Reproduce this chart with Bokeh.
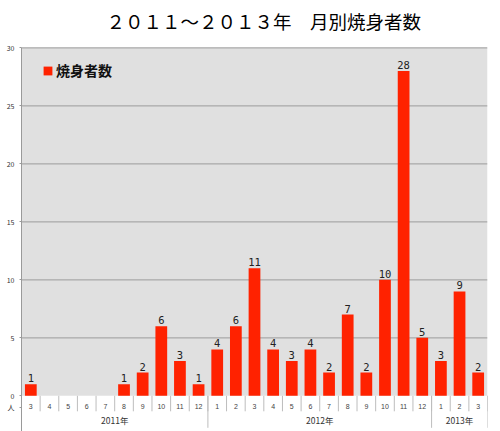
from bokeh.plotting import figure
from bokeh.models import ColumnDataSource, FixedTicker, Range1d, Legend, LegendItem, Label
from bokeh.core.properties import value
from bokeh.embed import file_html
from bokeh.resources import INLINE

# ---- data ----
title_text = "２０１１～２０１３年　月別焼身者数"
series_name = "焼身者数"
unit_label = "人"
years = ["2011年", "2012年", "2013年"]
months_2011 = [3, 4, 5, 6, 7, 8, 9, 10, 11, 12]
months_2012 = [1, 2, 3, 4, 5, 6, 7, 8, 9, 10, 11, 12]
months_2013 = [1, 2, 3]
values_2011 = [1, 0, 0, 0, 0, 1, 2, 6, 3, 1]
values_2012 = [4, 6, 11, 4, 3, 4, 2, 7, 2, 10, 28, 5]
values_2013 = [3, 9, 2]
y_ticks = [0, 5, 10, 15, 20, 25, 30]

# ---- derived ----
month_groups = [months_2011, months_2012, months_2013]
value_groups = [values_2011, values_2012, values_2013]
months = [m for g in month_groups for m in g]
vals = [v for g in value_groups for v in g]
n = len(months)
xc = [i + 0.5 for i in range(n)]

bounds = [0]
for g in month_groups:
    bounds.append(bounds[-1] + len(g))
year_centers = [(bounds[i] + bounds[i + 1]) / 2 for i in range(len(years))]

# layout (pixels)
W, H = 500, 431
PX = 11.6            # pixels per unit on y
ZERO_FROM_TOP = 395.3
y_hi = ZERO_FROM_TOP / PX
y_lo = -(H - ZERO_FROM_TOP) / PX
ymax = y_ticks[-1]

p = figure(width=W, height=H, x_range=Range1d(0, n), y_range=Range1d(y_lo, y_hi),
           toolbar_location=None, output_backend="svg", x_axis_location=None,
           min_border_left=21, min_border_right=13, min_border_top=0, min_border_bottom=0)
p.outline_line_color = None
p.background_fill_color = "white"
p.border_fill_color = "white"
p.xgrid.visible = False
p.ygrid.visible = False
for g in p.grid:
    g.grid_line_color = None

# y axis
unit_tick = -1
p.yaxis.ticker = FixedTicker(ticks=y_ticks + [unit_tick])
p.yaxis.major_label_overrides = {unit_tick: unit_label}
p.yaxis.bounds = (y_lo, ymax)
p.yaxis.axis_line_color = "#9a9a9a"
p.yaxis.major_tick_line_color = "#9a9a9a"
p.yaxis.major_tick_out = 2
p.yaxis.major_tick_in = 0
p.yaxis.minor_tick_line_color = None
p.yaxis.major_label_standoff = 5
p.yaxis.major_label_text_font_size = "7px"
p.yaxis.major_label_text_font = "Noto Sans CJK JP"
p.yaxis.major_label_text_color = "#333333"

# plot background and grid
p.quad(left=[0], right=[n], bottom=[0], top=[ymax], fill_color="#e0e0e0", line_color=None)
grid_y = y_ticks[1:]
p.segment(x0=[0] * len(grid_y), x1=[n] * len(grid_y), y0=grid_y, y1=grid_y,
          line_color="#a9a9a9", line_width=1.3)

# bars
src = ColumnDataSource(dict(x=xc, top=vals))
bars = p.vbar(x="x", top="top", bottom=0, width=0.63, source=src,
              fill_color="#ff2200", line_color=None)

# value labels
lab_x = [x for x, v in zip(xc, vals) if v > 0]
lab_y = [v for v in vals if v > 0]
lab_t = [str(v) for v in vals if v > 0]
p.text(x=lab_x, y=lab_y, text=lab_t, text_align="center", text_baseline="bottom",
       y_offset=-2, text_font=value("DejaVu Sans Mono"), text_font_size="10.5px",
       text_color="#222222")

# category axis (drawn in data space below zero)
month_sep_lo = -15.5 / PX
p.segment(x0=list(range(n + 1)), x1=list(range(n + 1)), y0=[0] * (n + 1),
          y1=[month_sep_lo] * (n + 1), line_color="#bdbdbd", line_width=1)
year_sep_lo = -32.0 / PX
p.segment(x0=bounds, x1=bounds, y0=[0] * len(bounds), y1=[year_sep_lo] * len(bounds),
          line_color="#bdbdbd", line_width=1)
p.text(x=xc, y=[-10.8 / PX] * n, text=[str(m) for m in months], text_align="center",
       text_baseline="middle", text_font=value("Liberation Sans"), text_font_size="7px",
       text_color="#444444")
p.text(x=year_centers, y=[-24.2 / PX] * len(years), text=years, text_align="center",
       text_baseline="middle", text_font=value("Noto Sans CJK JP"), text_font_size="8.5px",
       text_color="#333333")

# title
title = Label(x=n / 2 + 0.5, y=(ZERO_FROM_TOP - 20) / PX, text=title_text,
              text_align="center", text_baseline="middle", text_font="Noto Sans CJK JP",
              text_font_size="18.5px", text_color="#000000")
p.add_layout(title)

# legend
legend = Legend(items=[LegendItem(label=series_name, renderers=[bars])],
                location=(21, 351), padding=0, margin=0, border_line_color=None,
                background_fill_alpha=0, glyph_width=11, glyph_height=11,
                label_height=11, label_standoff=3, label_text_font_size="14px",
                label_text_font_style="bold", label_text_font="Noto Sans CJK JP",
                label_text_color="#111111")
p.add_layout(legend)

open("out.html", "w").write(file_html(p, INLINE))
